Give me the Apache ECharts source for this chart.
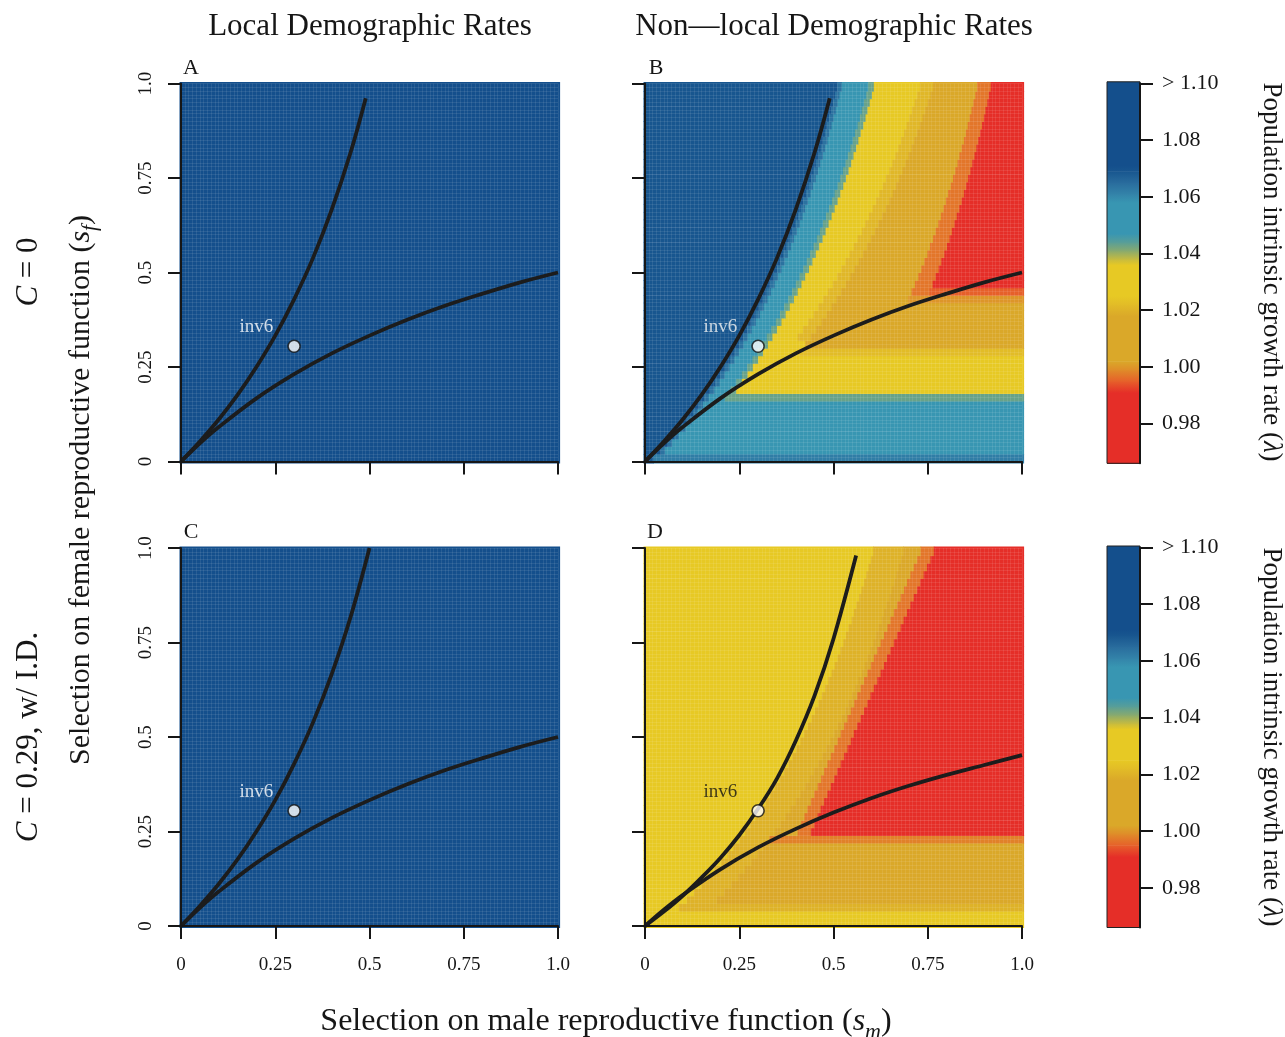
<!DOCTYPE html>
<html><head><meta charset="utf-8">
<script src="https://cdn.jsdelivr.net/npm/echarts@6/dist/echarts.min.js"></script>
<style>html,body{margin:0;padding:0;background:#fff}#c{width:1285px;height:1037px}</style>
</head><body><div id="c"></div>
<script>
// ---------------- data ----------------
const tickValues = [0, 0.25, 0.5, 0.75, 1];
const tickLabels = ['0', '0.25', '0.5', '0.75', '1.0'];
const cbTickValues = [0.98, 1.00, 1.02, 1.04, 1.06, 1.08, 1.10];
const cbTickLabels = ['0.98', '1.00', '1.02', '1.04', '1.06', '1.08', '> 1.10'];
const cbMin = 0.966, cbMax = 1.10;

// colour scale (value -> colour)
const colorStops = [
  [0.966, '#e52e28'], [0.991, '#e52e28'], [0.995, '#e6602a'], [0.999, '#df8c29'],
  [1.002, '#daa829'], [1.018, '#daa829'], [1.022, '#e2bc27'], [1.025, '#e7c924'],
  [1.036, '#e7c924'], [1.038, '#c6bb3f'], [1.041, '#88aa6e'], [1.044, '#589e98'],
  [1.047, '#3896b2'], [1.058, '#3896b2'], [1.061, '#3383a9'], [1.065, '#296c9d'],
  [1.069, '#18568f'], [1.071, '#144f8c'], [1.10, '#144f8c']
];

// growth-rate fields: one string per row of s_f (bottom row first),
// each token "lambda:end" = value up to that s_m
const rowsA = ['1.1:1'];
const rowsC = ['1.1:1'];
const rowsB = [
  '1.069:.022 1.062:1',
  '1.069:.041 1.064:.053 1.055:1',
  '1.069:.060 1.064:.072 1.055:1',
  '1.069:.077 1.064:.089 1.055:1',
  '1.069:.095 1.064:.107 1.055:1',
  '1.069:.111 1.064:.123 1.055:1',
  '1.069:.127 1.064:.139 1.055:1',
  '1.069:.142 1.064:.154 1.055:.196 1.047:1',
  '1.069:.157 1.064:.169 1.055:.212 1.043:1',
  '1.069:.172 1.064:.184 1.055:.227 1.043:.242 1.035:1',
  '1.069:.186 1.064:.198 1.055:.242 1.043:.257 1.03:1',
  '1.069:.199 1.064:.211 1.055:.257 1.043:.272 1.03:1',
  '1.069:.212 1.064:.224 1.055:.271 1.043:.286 1.03:1',
  '1.069:.225 1.064:.237 1.055:.285 1.043:.300 1.03:1',
  '1.069:.237 1.064:.249 1.055:.298 1.043:.313 1.03:.409 1.022:1',
  '1.069:.249 1.064:.261 1.055:.311 1.043:.326 1.03:.425 1.018:1',
  '1.069:.260 1.064:.272 1.055:.323 1.043:.338 1.03:.405 1.021:.440 1.01:1',
  '1.069:.271 1.064:.283 1.055:.335 1.043:.350 1.03:.419 1.021:.454 1.01:1',
  '1.069:.282 1.064:.294 1.055:.347 1.043:.362 1.03:.433 1.021:.468 1.01:1',
  '1.069:.293 1.064:.305 1.055:.358 1.043:.373 1.03:.447 1.021:.482 1.01:1',
  '1.069:.303 1.064:.315 1.055:.369 1.043:.384 1.03:.460 1.021:.495 1.01:1',
  '1.069:.313 1.064:.325 1.055:.380 1.043:.395 1.03:.473 1.021:.508 1.01:.698 1.0:1',
  '1.069:.322 1.064:.334 1.055:.390 1.043:.405 1.03:.485 1.021:.520 1.01:.707 .997:.755 .995:1',
  '1.069:.332 1.064:.344 1.055:.400 1.043:.415 1.03:.498 1.021:.533 1.01:.716 .997:.763 .975:1',
  '1.069:.341 1.064:.353 1.055:.410 1.043:.425 1.03:.510 1.021:.545 1.01:.725 .997:.771 .975:1',
  '1.069:.350 1.064:.362 1.055:.420 1.043:.435 1.03:.521 1.021:.556 1.01:.733 .997:.779 .975:1',
  '1.069:.358 1.064:.370 1.055:.429 1.043:.444 1.03:.532 1.021:.567 1.01:.741 .997:.786 .975:1',
  '1.069:.367 1.064:.379 1.055:.438 1.043:.453 1.03:.543 1.021:.578 1.01:.749 .997:.794 .975:1',
  '1.069:.375 1.064:.387 1.055:.447 1.043:.462 1.03:.554 1.021:.589 1.01:.756 .997:.801 .975:1',
  '1.069:.383 1.064:.395 1.055:.456 1.043:.471 1.03:.564 1.021:.599 1.01:.764 .997:.808 .975:1',
  '1.069:.391 1.064:.403 1.055:.464 1.043:.479 1.03:.575 1.021:.610 1.01:.771 .997:.814 .975:1',
  '1.069:.399 1.064:.411 1.055:.472 1.043:.487 1.03:.584 1.021:.619 1.01:.778 .997:.821 .975:1',
  '1.069:.406 1.064:.418 1.055:.480 1.043:.495 1.03:.594 1.021:.629 1.01:.785 .997:.827 .975:1',
  '1.069:.413 1.064:.425 1.055:.488 1.043:.503 1.03:.604 1.021:.639 1.01:.792 .997:.834 .975:1',
  '1.069:.420 1.064:.432 1.055:.496 1.043:.511 1.03:.613 1.021:.648 1.01:.798 .997:.840 .975:1',
  '1.069:.427 1.064:.439 1.055:.503 1.043:.518 1.03:.622 1.021:.657 1.01:.804 .997:.846 .975:1',
  '1.069:.434 1.064:.446 1.055:.511 1.043:.526 1.03:.631 1.021:.666 1.01:.811 .997:.852 .975:1',
  '1.069:.441 1.064:.453 1.055:.518 1.043:.533 1.03:.639 1.021:.674 1.01:.817 .997:.857 .975:1',
  '1.069:.447 1.064:.459 1.055:.525 1.043:.540 1.03:.648 1.021:.683 1.01:.823 .997:.863 .975:1',
  '1.069:.453 1.064:.465 1.055:.532 1.043:.547 1.03:.656 1.021:.691 1.01:.829 .997:.868 .975:1',
  '1.069:.460 1.064:.472 1.055:.538 1.043:.553 1.03:.664 1.021:.699 1.01:.834 .997:.874 .975:1',
  '1.069:.466 1.064:.478 1.055:.545 1.043:.560 1.03:.672 1.021:.707 1.01:.840 .997:.879 .975:1',
  '1.069:.472 1.064:.484 1.055:.551 1.043:.566 1.03:.679 1.021:.714 1.01:.846 .997:.884 .975:1',
  '1.069:.477 1.064:.489 1.055:.557 1.043:.572 1.03:.687 1.021:.722 1.01:.851 .997:.889 .975:1',
  '1.069:.483 1.064:.495 1.055:.564 1.043:.579 1.03:.694 1.021:.729 1.01:.856 .997:.894 .975:1',
  '1.069:.488 1.064:.500 1.055:.570 1.043:.585 1.03:.701 1.021:.736 1.01:.861 .997:.899 .975:1',
  '1.069:.494 1.064:.506 1.055:.575 1.043:.590 1.03:.708 1.021:.743 1.01:.866 .997:.903 .975:1',
  '1.069:.499 1.064:.511 1.055:.581 1.043:.596 1.03:.715 1.021:.750 1.01:.871 .997:.908 .975:1',
  '1.069:.504 1.064:.516 1.055:.587 1.043:.602 1.03:.722 1.021:.757 1.01:.876 .997:.912 .975:1',
  '1.069:.510 1.064:.522 1.055:.592 1.043:.607 1.03:.729 1.021:.764 1.01:.881 .997:.917 .975:1'
];
const rowsD = [
  '1.03:1',
  '1.03:.069 1.025:1',
  '1.03:.090 1.02:1',
  '1.03:.111 1.02:.191 1.015:1',
  '1.03:.130 1.02:.210 1.012:1',
  '1.03:.149 1.02:.229 1.008:1',
  '1.03:.167 1.02:.247 1.008:1',
  '1.03:.185 1.02:.265 1.008:1',
  '1.03:.202 1.02:.282 1.008:1',
  '1.03:.219 1.02:.299 1.008:1',
  '1.03:.234 1.02:.314 1.005:1',
  '1.03:.250 1.02:.330 .998:1',
  '1.03:.265 1.02:.345 1.01:.405 .997:.440 .975:1',
  '1.03:.279 1.02:.359 1.01:.414 .997:.449 .975:1',
  '1.03:.293 1.02:.373 1.01:.423 .997:.458 .975:1',
  '1.03:.306 1.02:.386 1.01:.431 .997:.466 .975:1',
  '1.03:.320 1.02:.400 1.01:.440 .997:.475 .975:1',
  '1.03:.332 1.02:.412 1.01:.449 .997:.484 .975:1',
  '1.03:.345 1.02:.425 1.01:.458 .997:.493 .975:1',
  '1.03:.357 1.02:.437 1.01:.467 .997:.502 .975:1',
  '1.03:.368 1.02:.448 1.01:.475 .997:.510 .975:1',
  '1.03:.380 1.02:.460 1.01:.484 .997:.519 .975:1',
  '1.03:.391 1.02:.471 1.01:.493 .997:.528 .975:1',
  '1.03:.401 1.02:.481 1.01:.502 .997:.537 .975:1',
  '1.03:.412 1.02:.492 1.01:.511 .997:.546 .975:1',
  '1.03:.422 1.02:.502 1.01:.519 .997:.554 .975:1',
  '1.03:.432 1.02:.512 1.01:.528 .997:.563 .975:1',
  '1.03:.442 1.02:.522 1.01:.537 .997:.572 .975:1',
  '1.03:.451 1.02:.531 1.01:.546 .997:.581 .975:1',
  '1.03:.460 1.02:.540 1.01:.555 .997:.590 .975:1',
  '1.03:.469 1.02:.549 1.01:.563 .997:.598 .975:1',
  '1.03:.478 1.02:.558 1.01:.572 .997:.607 .975:1',
  '1.03:.486 1.02:.566 1.01:.581 .997:.616 .975:1',
  '1.03:.495 1.02:.575 1.01:.590 .997:.625 .975:1',
  '1.03:.503 1.02:.583 1.01:.599 .997:.634 .975:1',
  '1.03:.511 1.02:.591 1.01:.607 .997:.642 .975:1',
  '1.03:.518 1.02:.598 1.01:.616 .997:.651 .975:1',
  '1.03:.526 1.02:.606 1.01:.625 .997:.660 .975:1',
  '1.03:.533 1.02:.613 1.01:.634 .997:.669 .975:1',
  '1.03:.540 1.02:.620 1.01:.643 .997:.678 .975:1',
  '1.03:.548 1.02:.628 1.01:.651 .997:.686 .975:1',
  '1.03:.554 1.02:.634 1.01:.660 .997:.695 .975:1',
  '1.03:.561 1.02:.641 1.01:.669 .997:.704 .975:1',
  '1.03:.568 1.02:.648 1.01:.678 .997:.713 .975:1',
  '1.03:.574 1.02:.654 1.01:.687 .997:.722 .975:1',
  '1.03:.581 1.02:.661 1.01:.695 .997:.730 .975:1',
  '1.03:.587 1.02:.667 1.01:.704 .997:.739 .975:1',
  '1.03:.593 1.02:.673 1.01:.713 .997:.748 .975:1',
  '1.03:.599 1.02:.679 1.01:.722 .997:.757 .975:1',
  '1.03:.605 1.02:.685 1.01:.731 .997:.766 .975:1'
];

// invasion boundary curves (s_m, s_f)
const upperAB_sm = [0, 0.05, 0.1, 0.15, 0.2, 0.25, 0.3, 0.35, 0.4, 0.45, 0.49];
const upperAB_sf = [0, 0.053, 0.111, 0.176, 0.25, 0.333, 0.429, 0.538, 0.667, 0.818, 0.961];
const upperC_sm = [0, 0.05, 0.1, 0.15, 0.2, 0.25, 0.3, 0.35, 0.4, 0.45, 0.5];
const upperC_sf = [0, 0.053, 0.111, 0.176, 0.25, 0.333, 0.429, 0.538, 0.667, 0.818, 1.0];
const lowerABC_sm = [0, 0.05, 0.1, 0.2, 0.3, 0.4, 0.5, 0.6, 0.7, 0.8, 0.9, 1.0];
const lowerABC_sf = [0, 0.048, 0.091, 0.167, 0.231, 0.286, 0.333, 0.375, 0.412, 0.444, 0.474, 0.5];
const upperD_sm = [0, 0.05, 0.1, 0.15, 0.2, 0.25, 0.3, 0.35, 0.4, 0.45, 0.5, 0.56];
const upperD_sf = [0, 0.038, 0.08, 0.128, 0.18, 0.24, 0.31, 0.39, 0.49, 0.61, 0.76, 0.98];
const lowerD_sm = [0, 0.05, 0.1, 0.2, 0.3, 0.4, 0.5, 0.6, 0.7, 0.8, 0.9, 1.0];
const lowerD_sf = [0, 0.043, 0.082, 0.15, 0.208, 0.257, 0.30, 0.338, 0.371, 0.40, 0.426, 0.452];

const inv6Point = [0.3, 0.305];
const inv6Label = 'inv6';

// ---------------- helpers ----------------
const FONT = '"Liberation Serif", "DejaVu Serif", serif';
const INK = '#161616';
function hex(h) { return [1, 3, 5].map(k => parseInt(h.substr(k, 2), 16)); }
function colorOf(v) {
  if (v <= colorStops[0][0]) return colorStops[0][1];
  for (let k = 0; k < colorStops.length - 1; k++) {
    const a = colorStops[k], b = colorStops[k + 1];
    if (v >= a[0] && v <= b[0]) {
      const t = (v - a[0]) / (b[0] - a[0] || 1);
      const ca = hex(a[1]), cb = hex(b[1]);
      const c = ca.map((x, j) => Math.round(x + (cb[j] - x) * t));
      return 'rgb(' + c.join(',') + ')';
    }
  }
  return colorStops[colorStops.length - 1][1];
}
function parseRows(rows) {
  const n = rows.length, h = 1 / n, out = [];
  rows.forEach((row, i) => {
    let x0 = 0;
    row.trim().split(/\s+/).forEach(tok => {
      const p = tok.split(':').map(Number);
      out.push([x0, p[1], i * h, (i + 1) * h, p[0]]);
      x0 = p[1];
    });
  });
  return out;
}
function zip(a, b) { return a.map((x, i) => [x, b[i]]); }
function renderCell(params, api) {
  const x0 = api.value(0), x1 = api.value(1), y0 = api.value(2), y1 = api.value(3), v = api.value(4);
  const a = api.coord([x0, y1]), b = api.coord([x1, y0]);
  let L = a[0], T = a[1], R = b[0], B = b[1];
  if (x0 <= 0) L -= 1.5; if (x1 >= 1) R += 1.5; if (y0 <= 0) B += 1.5; if (y1 >= 1) T -= 1.5;
  return { type: 'rect', shape: { x: L, y: T, width: R - L + 0.6, height: B - T + 0.6 }, style: { fill: colorOf(v) } };
}
function tickText(v) {
  for (let k = 0; k < tickValues.length; k++) if (Math.abs(v - tickValues[k]) < 1e-9) return tickLabels[k];
  return '';
}
function cbText(v) {
  for (let k = 0; k < cbTickValues.length; k++) if (Math.abs(v - cbTickValues[k]) < 1e-6) return cbTickLabels[k];
  return '';
}

// ---------------- layout ----------------
const panels = [
  { left: 181, top: 83.5, rows: rowsA, up: [upperAB_sm, upperAB_sf], lo: [lowerABC_sm, lowerABC_sf], xLab: false, yLab: true, labColor: '#ffffff' },
  { left: 645, top: 83.5, rows: rowsB, up: [upperAB_sm, upperAB_sf], lo: [lowerABC_sm, lowerABC_sf], xLab: false, yLab: false, labColor: '#f4f4f4' },
  { left: 181, top: 548, rows: rowsC, up: [upperC_sm, upperC_sf], lo: [lowerABC_sm, lowerABC_sf], xLab: true, yLab: true, labColor: '#ffffff' },
  { left: 645, top: 548, rows: rowsD, up: [upperD_sm, upperD_sf], lo: [lowerD_sm, lowerD_sf], xLab: true, yLab: false, labColor: '#111111' }
];
const cbars = [{ top: 83.3 }, { top: 547.5 }];

const grid = [], xAxis = [], yAxis = [], series = [];
const axisLineStyle = { color: INK, width: 2 };
panels.forEach((p, i) => {
  grid.push({ left: p.left, top: p.top, width: 377, height: 378, outerBoundsMode: 'none', containLabel: false });
  xAxis.push({
    type: 'value', gridIndex: i, min: 0, max: 1, interval: 0.25, z: 6,
    axisLine: { show: true, onZero: false, lineStyle: axisLineStyle },
    axisTick: { show: true, length: 13, inside: false, lineStyle: axisLineStyle },
    axisLabel: { show: p.xLab, formatter: tickText, fontFamily: FONT, fontSize: 19, color: INK, margin: 30 },
    splitLine: { show: false }
  });
  yAxis.push({
    type: 'value', gridIndex: i, min: 0, max: 1, interval: 0.25, z: 6,
    axisLine: { show: true, onZero: false, lineStyle: axisLineStyle },
    axisTick: { show: true, length: 13, inside: false, lineStyle: axisLineStyle },
    axisLabel: { show: p.yLab, rotate: 90, formatter: tickText, fontFamily: FONT, fontSize: 19, color: INK, margin: 25 },
    splitLine: { show: false }
  });
  series.push({
    type: 'custom', xAxisIndex: i, yAxisIndex: i, renderItem: renderCell, data: parseRows(p.rows),
    encode: { x: [0, 1], y: [2, 3] }, clip: false, silent: true, z: 1
  });
  [p.up, p.lo].forEach(c => series.push({
    type: 'line', xAxisIndex: i, yAxisIndex: i, data: zip(c[0], c[1]), showSymbol: false, symbol: 'none',
    smooth: 0.35, lineStyle: { color: '#1c1c1c', width: 3.8 }, z: 3, silent: true
  }));
  series.push({
    type: 'scatter', xAxisIndex: i, yAxisIndex: i, data: [inv6Point], symbol: 'circle', symbolSize: 12,
    itemStyle: { color: '#ffffff', borderColor: '#111', borderWidth: 1.6 }, z: 4, silent: true,
    label: { show: true, formatter: inv6Label, position: 'left', distance: 14, offset: [0, -19],
      color: p.labColor, fontFamily: FONT, fontSize: 19 }
  });
});
const cbSegments = colorStops.slice(0, -1).map((s, k) => [s[0], colorStops[k + 1][0]]);
cbars.forEach((c, j) => {
  const gi = 4 + j;
  grid.push({ left: 1107, top: c.top, width: 33, height: 380, outerBoundsMode: 'none', containLabel: false });
  xAxis.push({ type: 'value', gridIndex: gi, min: 0, max: 1, show: false });
  yAxis.push({
    type: 'value', gridIndex: gi, min: cbMin, max: cbMax, position: 'right', z: 6,
    axisLine: { show: true, onZero: false, lineStyle: axisLineStyle },
    axisTick: { show: true, length: 13, customValues: cbTickValues, lineStyle: axisLineStyle },
    axisLabel: { show: true, customValues: cbTickValues, formatter: cbText, fontFamily: FONT, fontSize: 22, color: INK, margin: 22 },
    splitLine: { show: false }
  });
  series.push({
    type: 'custom', xAxisIndex: gi, yAxisIndex: gi, data: cbSegments, encode: { y: [0, 1] }, clip: false, silent: true, z: 1,
    renderItem: (params, api) => {
      const lo = api.value(0), hi = api.value(1);
      const a = api.coord([0, hi]), b = api.coord([1, lo]);
      return { type: 'rect', shape: { x: a[0], y: a[1] - (hi >= cbMax ? 1.5 : 0), width: b[0] - a[0], height: b[1] - a[1] + 0.6 + (hi >= cbMax ? 1.5 : 0) },
        style: { fill: new echarts.graphic.LinearGradient(0, 0, 0, 1, [{ offset: 0, color: colorOf(hi) }, { offset: 1, color: colorOf(lo) }]) } };
    }
  });
  series.push({
    type: 'custom', xAxisIndex: gi, yAxisIndex: gi, data: [[cbMin, cbMax]], encode: { y: [0, 1] }, clip: false, silent: true, z: 2,
    renderItem: (params, api) => {
      const a = api.coord([0, api.value(1)]), b = api.coord([1, api.value(0)]);
      return { type: 'rect', shape: { x: a[0], y: a[1] - 1.5, width: b[0] - a[0], height: b[1] - a[1] + 1.5 },
        style: { fill: 'none', stroke: '#222', lineWidth: 1 } };
    }
  });
});
// faint cell texture of the raster image (split lines of hidden fine axes)
const texture = { color: 'rgba(255,255,255,0.085)', width: 1 };
panels.forEach((p, i) => {
  xAxis.push({ type: 'value', gridIndex: i, min: 0, max: 1, interval: 0.01, z: 2,
    axisLine: { show: false }, axisTick: { show: false }, axisLabel: { show: false },
    splitLine: { show: true, lineStyle: texture } });
  yAxis.push({ type: 'value', gridIndex: i, min: 0, max: 1, interval: 0.01, z: 2,
    axisLine: { show: false }, axisTick: { show: false }, axisLabel: { show: false },
    splitLine: { show: true, lineStyle: texture } });
});

function txt(x, y, text, size, rot, extra) {
  const rich = {
    i: { fontFamily: FONT, fontSize: size, fontStyle: 'italic', fill: INK, lineHeight: size + 10 },
    sub: { fontFamily: FONT, fontSize: Math.round(size * 0.7), fontStyle: 'italic', fill: INK, lineHeight: size + 10, verticalAlign: 'bottom' }
  };
  return Object.assign({
    type: 'text', x: x, y: y, rotation: rot || 0, silent: true,
    style: { text: text, fontFamily: FONT, fontSize: size, fill: INK, lineHeight: size + 10,
      align: 'center', verticalAlign: 'middle', textAlign: 'center', textVerticalAlign: 'middle', rich: rich }
  }, extra || {});
}
const graphic = [
  txt(370, 27, 'Local Demographic Rates', 31),
  txt(834, 27, 'Non\u2014local Demographic Rates', 31),
  txt(191, 68, 'A', 22), txt(656, 68, 'B', 22), txt(191, 532, 'C', 22), txt(655, 532, 'D', 22),
  txt(29, 272, '{i|C} = 0', 31, Math.PI / 2),
  txt(29, 737, '{i|C} = 0.29, w/ I.D.', 31, Math.PI / 2),
  txt(81, 490, 'Selection on female reproductive function ({i|s}{sub|f})', 30, Math.PI / 2),
  txt(606, 1022, 'Selection on male reproductive function ({i|s}{sub|m})', 32),
  txt(1271, 272, 'Population intrinsic growth rate ({i|\u03bb})', 27, -Math.PI / 2),
  txt(1271, 737, 'Population intrinsic growth rate ({i|\u03bb})', 27, -Math.PI / 2)
];

const chart = echarts.init(document.getElementById('c'), null, { renderer: 'canvas' });
chart.setOption({
  backgroundColor: '#ffffff', animation: false,
  textStyle: { fontFamily: FONT },
  grid: grid, xAxis: xAxis, yAxis: yAxis, series: series, graphic: graphic
});
</script></body></html>
